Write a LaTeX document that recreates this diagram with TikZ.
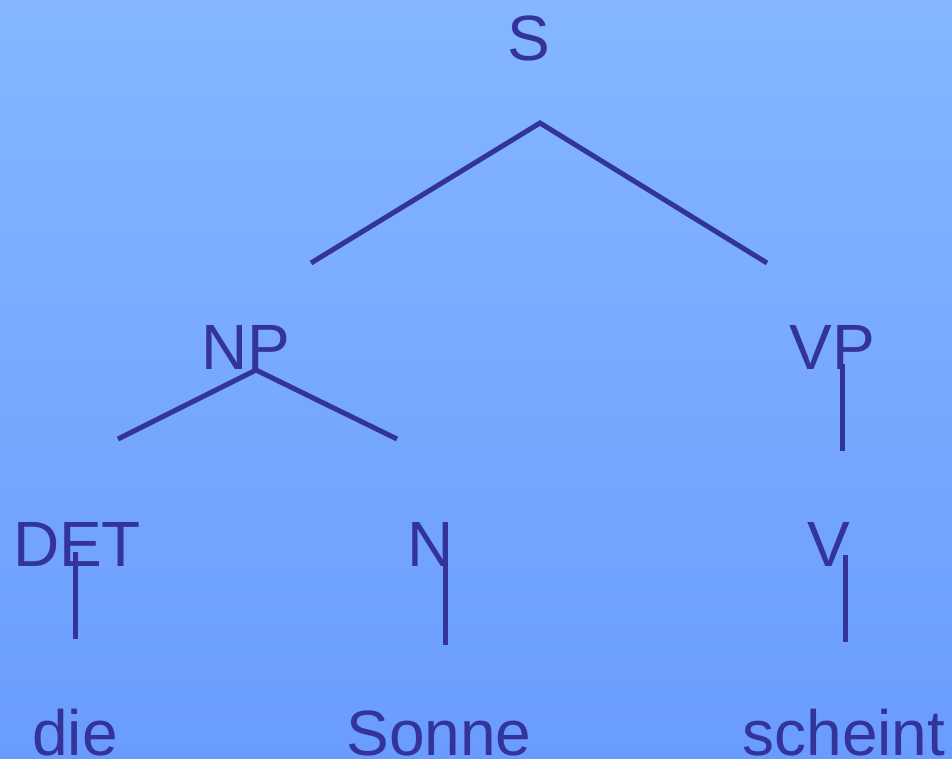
\documentclass[tikz,border=0pt]{standalone}
\usepackage{fontspec}
\setmainfont{Liberation Sans}
\definecolor{ink}{RGB}{51,51,153}
\definecolor{skytop}{RGB}{133,182,255}
\definecolor{skybot}{RGB}{106,156,255}
\begin{document}
\begin{tikzpicture}[x=1pt,y=-1pt,
  cat/.style={anchor=base,inner sep=0pt,text=ink,font=\fontsize{64}{70}\selectfont},
  branch/.style={draw=ink,line width=5pt}]
% background
\shade[top color=skytop,bottom color=skybot] (0,0) rectangle (952,758);
\useasboundingbox (0,0) rectangle (952,758);
% labels
\node[cat] (S)   at (529,60)  {S};
\node[cat] (NP)  at (246,369) {NP};
\node[cat] (VP)  at (832,369) {VP};
\node[cat] (DET) at (77,566)  {DET};
\node[cat] (N)   at (431,566) {N};
\node[cat] (V)   at (829,566) {V};
\node[cat] (w1)  at (75,755)  {die};
\node[cat] (w2)  at (439,755) {Sonne};
\node[cat] (w3)  at (844,755) {scheint};
% branch end points
\coordinate (s0) at (540,123);
\coordinate (s1) at (311,263);
\coordinate (s2) at (767,263);
\coordinate (np0) at (256,370);
\coordinate (np1) at (118,439);
\coordinate (np2) at (397,439);
\coordinate (vp0) at (842,364);
\coordinate (vp1) at (842,451);
\coordinate (d0) at (75,552);
\coordinate (d1) at (75,639);
\coordinate (n0) at (445,565);
\coordinate (n1) at (445,645);
\coordinate (v0) at (845,555);
\coordinate (v1) at (845,642);
% branches
\draw[branch] (s1) -- (s0) -- (s2);
\draw[branch] (np1) -- (np0) -- (np2);
\draw[branch] (vp0) -- (vp1);
\draw[branch] (d0) -- (d1);
\draw[branch] (n0) -- (n1);
\draw[branch] (v0) -- (v1);
\end{tikzpicture}
\end{document}
